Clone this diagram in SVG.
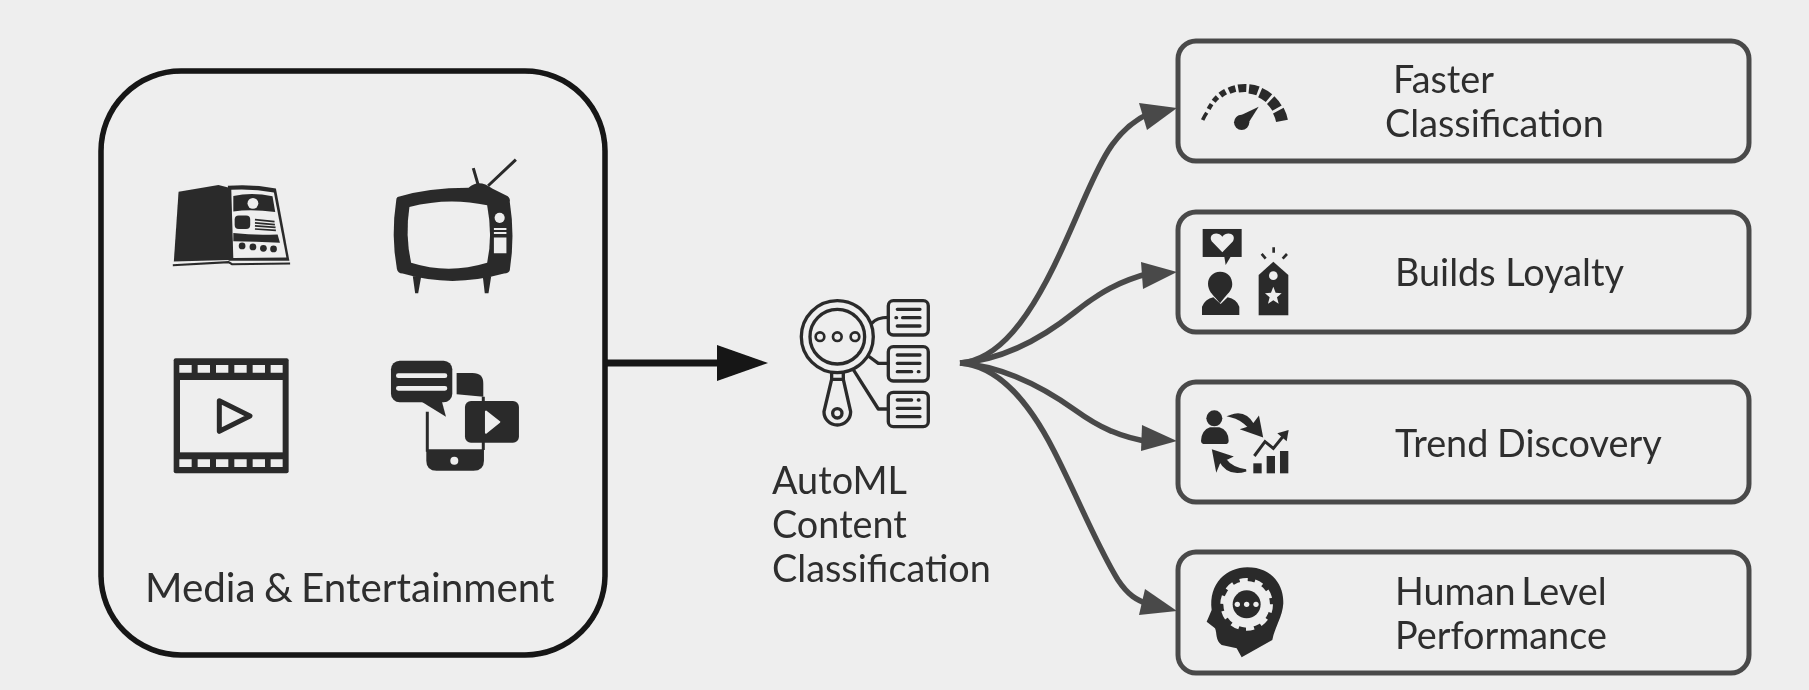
<svg xmlns="http://www.w3.org/2000/svg" width="1809" height="690" viewBox="0 0 1809 690">
<style>
.t{font-family:Lato,"Liberation Sans",sans-serif;fill:#2e2e2e;font-size:37.800px}
.d{fill:#2b2b2b}
.l{fill:#eeeeee}
.o{fill:none;stroke:#2b2b2b;stroke-width:10;stroke-linecap:round;stroke-linejoin:round}
.s{fill:none;stroke:#2b2b2b}
.box{fill:none;stroke:#4a4a4a;stroke-width:5}
.c{fill:none;stroke:#4a4a4a;stroke-width:5.500}
.h{fill:#4a4a4a}
</style>
<defs><filter id="soft" filterUnits="userSpaceOnUse" x="0" y="0" width="1809" height="690"><feGaussianBlur stdDeviation="0.6"/></filter></defs>
<rect width="1809" height="690" fill="#eeeeee"/>
<g filter="url(#soft)">
<g id="media">
<rect x="101" y="71" width="504" height="584" rx="80" fill="none" stroke="#141414" stroke-width="5.500"/>
<text class="t" x="145" y="602" style="font-size:40.400px;word-spacing:-2px">Media &amp; Entertainment</text>
<g id="icon-book" transform="translate(90 60) scale(.338)">
<path class="d" d="M262 390L380 370L412 378L412 592L248 596Z"/>
<path class="d" d="M408 372Q480 366 550 380L590 594L410 594Z"/>
<path class="l" d="M418 384Q480 380 544 392L581 584L424 586Z"/>
<path class="d" d="M424 402Q480 390 540 403L548 450Q480 440 424 448Z"/>
<circle class="l" cx="482" cy="424" r="16"/>
<rect class="d" x="428" y="460" width="46" height="40" rx="12"/>
<path class="s" stroke-width="5" d="M488 472L546 478M488 482L547 487M488 491L549 495M488 500L550 504"/>
<path class="d" d="M424 512Q490 520 555 516L562 541Q490 536 424 536Z"/>
<circle class="d" cx="450" cy="550" r="10"/><circle class="d" cx="482" cy="553" r="10"/><circle class="d" cx="513" cy="557" r="10"/><circle class="d" cx="543" cy="559" r="10"/>
<path class="s" stroke-width="6" d="M245 607L410 598L420 604L592 602"/>
</g>
<g id="icon-tv" transform="translate(90 60) scale(.338)">
<path class="d" d="M910 405Q1000 378 1120 378Q1150 350 1190 380L1236 403Q1244 410 1242 420Q1258 520 1242 622Q1240 630 1225 632Q1070 675 925 632Q910 630 908 618Q890 520 906 415Q906 408 910 405Z"/>
<path class="l" d="M945 435Q1060 405 1175 430Q1192 520 1175 600Q1060 635 950 600Q932 520 945 435Z"/>
<circle class="l" cx="1212" cy="467" r="15"/>
<path class="l" d="M1195 497H1232V503H1195ZM1195 509H1232V515H1195ZM1195 525H1232V572H1195Z"/>
<path class="d" d="M955 640H980L971 690H962ZM1162 640H1187L1179 690H1168Z"/>
<path class="s" stroke-width="9" d="M1148 368L1134 320M1178 372L1260 295"/>
</g>
<g id="icon-film" transform="translate(150 340) scale(.3333)">
<rect class="d" x="71" y="55" width="345" height="345" rx="6"/>
<rect class="l" x="90" y="120" width="308" height="217"/>
<path class="l" d="M88 75h37v23h-37zM143 75h37v23h-37zM198 75h37v23h-37zM253 75h37v23h-37zM308 75h37v23h-37zM362 75h36v23h-36zM88 358h37v23h-37zM143 358h37v23h-37zM198 358h37v23h-37zM253 358h37v23h-37zM308 358h37v23h-37zM362 358h36v23h-36z"/>
<path d="M208 182L300 228L208 274Z" fill="#eeeeee" stroke="#2b2b2b" stroke-width="15" stroke-linejoin="round"/>
</g>
<g id="icon-phone" transform="translate(150 340) scale(.3333)">
<rect class="d" x="723" y="62" width="184" height="125" rx="26"/>
<path class="d" d="M815 185L888 230L876 185Z"/>
<path d="M745 107H885M745 145H885" stroke="#eeeeee" stroke-width="14" stroke-linecap="round" fill="none"/>
<path class="d" d="M920 99H968Q1000 99 1000 130V170L920 163Z"/>
<path class="s" stroke-width="9" d="M832 215V335M1000 170V190M1000 300V330"/>
<path class="d" d="M829 328H1002V362Q1002 392 970 392H860Q829 392 829 362Z"/>
<circle class="l" cx="913" cy="362" r="12"/>
<rect class="d" x="945" y="183" width="162" height="125" rx="18"/>
<path d="M1008 215V278L1048 246Z" fill="#eeeeee" stroke="#eeeeee" stroke-width="6" stroke-linejoin="round"/>
</g>
</g>
<g id="connectors">
<path d="M606 363H720" fill="none" stroke="#141414" stroke-width="7"/>
<path d="M717 345L768 363L717 381Z" fill="#141414"/>
<path class="c" d="M960 363C1000 360 1030 315 1054 266C1078 217 1090 180 1108 151C1118 135 1130 122 1150 113"/>
<path class="h" d="M1139 103L1147 130L1177 108Z"/>
<path class="c" d="M960 363C1000 360 1040 340 1075 312C1100 292 1120 281 1150 273"/>
<path class="h" d="M1141 262L1143 289L1177 272Z"/>
<path class="c" d="M960 363C1000 366 1040 385 1075 410C1100 428 1120 437 1150 442"/>
<path class="h" d="M1142 425L1141 451L1177 441Z"/>
<path class="c" d="M960 363C1000 366 1030 404 1054 451C1078 498 1098 548 1118 580C1128 595 1136 600 1150 605"/>
<path class="h" d="M1145 589L1139 615L1177 611Z"/>
</g>
<g id="automl">
<g transform="translate(600 280) scale(.3333)">
<circle class="o" cx="712" cy="170" r="108"/>
<circle class="o" cx="712" cy="170" r="82"/>
<circle class="o" cx="660" cy="170" r="13" style="stroke-width:8"/><circle class="o" cx="712" cy="170" r="13" style="stroke-width:8"/><circle class="o" cx="765" cy="170" r="13" style="stroke-width:8"/>
<path class="o" d="M695 280V298H730V280M695 298L672 395A40 40 0 1 0 752 395L730 298"/>
<circle class="o" cx="712" cy="400" r="14"/>
<path class="o" d="M815 130Q830 112 865 112M805 228L835 250H865M762 272L835 387H865"/>
<rect class="o" x="865" y="62" width="120" height="103" rx="15"/>
<rect class="o" x="865" y="200" width="120" height="103" rx="15"/>
<rect class="o" x="865" y="337" width="120" height="103" rx="15"/>
<path class="o" d="M892 88H960M888 113H890M908 113H960M892 138H960M892 225H960M892 250H960M892 275H935M955 275H957M892 360H935M955 360H957M892 385H960M892 410H960"/>
</g>
<text class="t" x="772" y="494">AutoML</text>
<text class="t" x="772" y="538">Content</text>
<text class="t" x="772" y="582">Classification</text>
</g>
<g id="faster">
<rect class="box" x="1178" y="41" width="571" height="120" rx="18"/>
<text class="t" x="1393" y="93">Faster</text>
<text class="t" x="1385" y="137">Classification</text>
<g transform="translate(1160 30) scale(.3333)">
<path class="s" stroke-width="36" d="M366 272.800A108 108 0 0 0 355 241.800"/>
<path class="s" stroke-width="32" d="M351.100 234.500A109 109 0 0 0 332.100 210.200"/>
<path class="s" stroke-width="30" d="M327 204.200A110 110 0 0 0 300.600 187.700"/>
<path class="s" stroke-width="28" d="M294 182.900A111 111 0 0 0 267 176.600"/>
<path class="s" stroke-width="24" d="M259 174.100A113 113 0 0 0 234.800 175.700"/>
<path class="s" stroke-width="20" d="M226.400 175.500A115 115 0 0 0 207 182.200"/>
<path class="s" stroke-width="18" d="M196.800 185A117 117 0 0 0 181.100 195.400"/>
<path class="s" stroke-width="15" d="M172.500 201.500A118 118 0 0 0 161 213.900"/>
<path class="s" stroke-width="13" d="M154.700 222.400A119 119 0 0 0 146.200 237"/>
<path class="s" stroke-width="11" d="M140.300 248.300A120 120 0 0 0 128 270"/>
<circle class="d" cx="245" cy="277" r="23"/>
<path class="d" d="M230 262L258 290L296 230Z"/>
</g>
</g>
<g id="loyalty">
<rect class="box" x="1178" y="212" width="571" height="120" rx="18"/>
<text class="t" x="1395" y="286">Builds Loyalty</text>
<g transform="translate(1160 30) scale(.3333)">
<rect class="d" x="128" y="597" width="117" height="84"/>
<path class="d" d="M193 680H212L197 705Z"/>
<path class="l" d="M187 667L155 634C143 610 175 603 187 620C199 603 231 610 219 634Z"/>
<path class="d" d="M180 725C208 725 220 748 216 770C212 785 200 795 193 803L180 820L166 803C158 795 148 785 145 770C140 748 155 725 180 725Z"/>
<path class="d" d="M126 855V830Q135 808 160 802L182 822L203 802Q230 808 238 830V855Z"/>
<path class="d" d="M296 735L340 695L385 735V856H296Z"/>
<circle class="l" cx="340" cy="737" r="13"/>
<path class="l" d="M340 770L347 788L365 790L351 802L356 821L340 811L324 821L329 802L315 790L333 788Z"/>
<path class="s" stroke-width="8" d="M341 652V668M305 672L317 686M381 672L368 686"/>
</g>
</g>
<g id="trend">
<rect class="box" x="1178" y="382" width="571" height="120" rx="18"/>
<text class="t" x="1395" y="457" style="word-spacing:-1px">Trend Discovery</text>
<g transform="translate(1160 370) scale(.3333)">
<circle class="d" cx="163" cy="145" r="24"/>
<path class="d" d="M123 212Q125 180 150 172H178Q205 180 206 212Q206 222 195 222H135Q123 222 123 212Z"/>
<path class="d" stroke="#2b2b2b" stroke-width="7" d="M212 138Q255 122 280 165L295 145L305 197L250 178L268 172Q245 145 212 138Z"/>
<path class="d" stroke="#2b2b2b" stroke-width="7" d="M258 301Q205 318 180 272L170 296L160 243L212 260L195 268Q215 295 258 301Z"/>
<rect class="d" x="280" y="280" width="25" height="30"/>
<rect class="d" x="320" y="258" width="25" height="52"/>
<rect class="d" x="360" y="243" width="25" height="67"/>
<path class="s" stroke-width="9" d="M283 258L315 215L340 235L375 192"/>
<path class="d" d="M386 180L352 190L380 214Z"/>
</g>
</g>
<g id="human">
<rect class="box" x="1178" y="552" width="571" height="121" rx="18"/>
<text class="t" x="1395" y="605" style="word-spacing:-4px">Human Level</text>
<text class="t" x="1395" y="649">Performance</text>
<g transform="translate(1160 370) scale(.3333)">
<path class="d" d="M262 592C340 592 372 650 370 700C368 740 345 770 337 810L245 862L230 835L185 825C165 810 172 790 165 775L140 755L155 720C145 640 200 592 262 592Z"/>
<circle class="l" cx="260" cy="703" r="70"/>
<circle cx="260" cy="703" r="72" fill="none" stroke="#eeeeee" stroke-width="14" stroke-dasharray="24 21.200"/>
<circle class="d" cx="260" cy="703" r="42"/>
<circle class="l" cx="232" cy="703" r="8"/><circle class="l" cx="260" cy="703" r="8"/><circle class="l" cx="288" cy="703" r="8"/>
</g>
</g>
</g>
</svg>
